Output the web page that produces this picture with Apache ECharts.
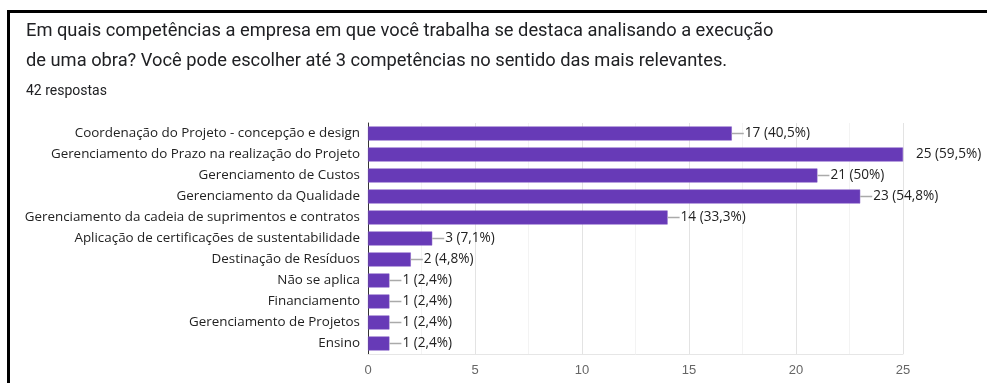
<!DOCTYPE html>
<html>
<head>
<meta charset="utf-8">
<script src="https://cdn.jsdelivr.net/npm/echarts@6/dist/echarts.min.js"></script>
<style>
  html, body { margin: 0; padding: 0; background: #fff; }
  #chart { width: 987px; height: 383px; }
</style>
</head>
<body>
<div id="chart"></div>
<script>
// Competências destacadas (até 3 por resposta), 42 respostas no total
const categories = [
  'Coordenação do Projeto - concepção e design',
  'Gerenciamento do Prazo na realização do Projeto',
  'Gerenciamento de Custos',
  'Gerenciamento da Qualidade',
  'Gerenciamento da cadeia de suprimentos e contratos',
  'Aplicação de certificações de sustentabilidade',
  'Destinação de Resíduos',
  'Não se aplica',
  'Financiamento',
  'Gerenciamento de Projetos',
  'Ensino'
];
const counts = [17, 25, 21, 23, 14, 3, 2, 1, 1, 1, 1];
const percents = ['40,5%', '59,5%', '50%', '54,8%', '33,3%', '7,1%', '4,8%', '2,4%', '2,4%', '2,4%', '2,4%'];
const xTicks = [0, 5, 10, 15, 20, 25];

const titleText = 'Em quais competências a empresa em que você trabalha se destaca analisando a execução\nde uma obra? Você pode escolher até 3 competências no sentido das mais relevantes.';
const subtitleText = '42 respostas';

const chart = echarts.init(document.getElementById('chart'), null, { renderer: 'canvas' });
const xMax = xTicks[xTicks.length - 1];

chart.setOption({
  animation: false,
  backgroundColor: '#fff',
  textStyle: { fontFamily: 'Open Sans, sans-serif' },
  title: [
    {
      text: titleText,
      left: 21, top: 11,
      textStyle: { fontFamily: 'Roboto, sans-serif', fontSize: 18.3, fontWeight: 'normal', color: '#202124', lineHeight: 30 }
    },
    {
      text: subtitleText,
      left: 21, top: 79,
      textStyle: { fontFamily: 'Roboto, sans-serif', fontSize: 14, fontWeight: 'normal', color: '#202124' }
    }
  ],
  graphic: [
    { type: 'rect', shape: { x: 7, y: 10, width: 980, height: 3 }, style: { fill: '#000' } },
    { type: 'rect', shape: { x: 7, y: 10, width: 3, height: 373 }, style: { fill: '#000' } }
  ],
  grid: { left: 368, right: 84, top: 123, bottom: 29, containLabel: false },
  xAxis: {
    type: 'value',
    min: 0, max: xMax, interval: 5,
    axisLine: { show: true, lineStyle: { color: '#e6e6e6' } },
    axisTick: { show: false },
    axisLabel: { color: '#666', fontSize: 13, margin: 10, fontFamily: 'Arial, sans-serif' },
    splitLine: { show: true, lineStyle: { color: '#e3e3e3', width: 1 } },
    minorTick: { show: false, splitNumber: 2 },
    minorSplitLine: { show: true, lineStyle: { color: '#f3f3f3', width: 1 } }
  },
  yAxis: {
    type: 'category',
    data: categories,
    inverse: true,
    axisLine: { show: true, lineStyle: { color: '#333', width: 1 } },
    axisTick: { show: false },
    axisLabel: { color: '#222', fontSize: 13.4, margin: 8 }
  },
  series: [{
    type: 'bar',
    data: counts.map((v, i) => ({
      value: v,
      label: { rich: { line: { backgroundColor: v === xMax ? 'transparent' : '#aaa' } } }
    })),
    barWidth: 14,
    itemStyle: { color: '#673ab7', borderColor: '#7e57c2', borderWidth: 0.5 },
    label: {
      show: true,
      position: 'right',
      distance: 0,
      formatter: p => '{line|}{val|' + p.value + ' (' + percents[p.dataIndex] + ')}',
      rich: {
        line: { width: 12, height: 1.5, backgroundColor: '#aaa' },
        val: { color: '#222', fontSize: 13.6, fontFamily: 'Open Sans, sans-serif', padding: [0, 0, 0, 1] }
      }
    }
  }]
});
</script>
</body>
</html>
